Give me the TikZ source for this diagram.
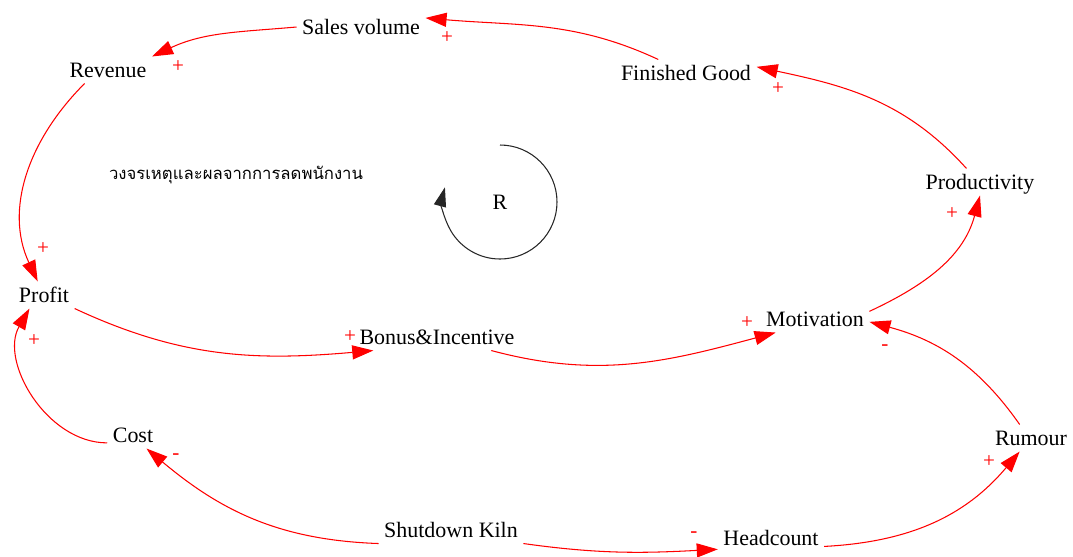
\documentclass[tikz,border=0pt]{standalone}
\usepackage{fontspec}
\setmainfont{Liberation Serif}
\newfontfamily\thaifont[Script=Thai]{Loma}
\usetikzlibrary{arrows.meta}

\begin{document}
\begin{tikzpicture}[x=0.02cm,y=0.02cm,
  var/.style={inner sep=3pt,text height=9pt,text depth=0pt,
              font=\fontsize{12.5}{14}\selectfont},
  link/.style={-{Triangle[length=12pt,width=8pt]},red,line width=0.6pt},
  sgn/.style={red,inner sep=0pt,font=\fontsize{12}{12}\selectfont},
  loopc/.style={-{Triangle[length=11pt,width=7pt]},black!85,line width=0.6pt}
]
\useasboundingbox (0,0) rectangle (1073,-556);

%% Variables
\node[var] (sales)  at (361,-27)  {Sales volume};
\node[var] (rev)    at (108,-70)  {Revenue};
\node[var] (fin)    at (686,-73)  {Finished Good};
\node[var] (prod)   at (980,-182) {Productivity};
\node[var] (profit) at (44,-295)  {Profit};
\node[var] (bonus)  at (437,-337) {Bonus\&Incentive};
\node[var] (mot)    at (815,-319) {Motivation};
\node[var] (cost)   at (133,-435) {Cost};
\node[var] (rum)    at (1031,-438){Rumour};
\node[var] (kiln)   at (451,-530) {Shutdown Kiln};
\node[var] (head)   at (771,-538) {Headcount};

%% Loop title and marker
\node[font=\thaifont\fontsize{9.5}{11}\selectfont] (title) at (236,-175)
  {วงจรเหตุและผลจากการลดพนักงาน};
\node[font=\fontsize{12.5}{14}\selectfont] (rlbl) at (500,-202) {R};
\draw[loopc] (rlbl.center) ++(90:57) arc[start angle=90,end angle=-195,radius=57];

%% Causal links
\draw[link] (fin.154)     to[out=155,in=-5]  (sales.8);
\draw[link] (sales.west)  to[out=185,in=25]  (rev.north east);
\draw[link] (rev.210)     to[out=225,in=115] (profit.115);
\draw[link] (profit.south east) to[out=-25,in=185] (bonus.192);
\draw[link] (bonus.-14)   to[out=-15,in=195] (mot.199);
\draw[link] (mot.8)       to[out=25,in=-105] (prod.south);
\draw[link] (prod.135)    to[out=132,in=-12] (fin.5);
\draw[link] (rum.130)     to[out=125,in=-15] (mot.-3);
\draw[link] (head.-9)     to[out=3,in=230]   (rum.230);
\draw[link] (kiln.south east) to[out=-8,in=183] (head.192);
\draw[link] (kiln.south west) to[out=178,in=-40] (cost.-45);
\draw[link] (cost.197)    to[out=180,in=-120] (profit.223);

%% Polarities
\node[sgn] (s1)  at (447,-38)  {+};
\node[sgn] (s2)  at (178,-67)  {+};
\node[sgn] (s3)  at (778,-89)  {+};
\node[sgn] (s4)  at (952,-214) {+};
\node[sgn] (s5)  at (43,-249)  {+};
\node[sgn] (s6)  at (34,-341)  {+};
\node[sgn] (s7)  at (350,-337) {+};
\node[sgn] (s8)  at (747,-323) {+};
\node[sgn] (s9)  at (885,-348) {-};
\node[sgn] (s10) at (989,-462) {+};
\node[sgn] (s11) at (694,-535) {-};
\node[sgn] (s12) at (176,-457) {-};
\end{tikzpicture}
\end{document}
